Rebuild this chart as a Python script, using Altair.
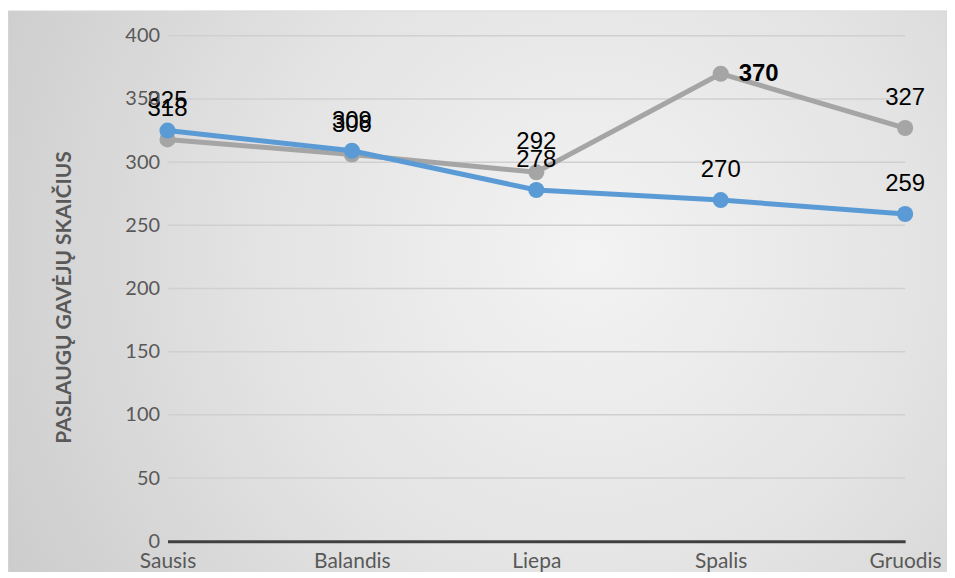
import altair as alt
import pandas as pd

months = ["Sausis", "Balandis", "Liepa", "Spalis", "Gruodis"]
series_gray = [318, 306, 292, 370, 327]
series_blue = [325, 309, 278, 270, 259]
y_ticks = [0, 50, 100, 150, 200, 250, 300, 350, 400]
y_title = "PASLAUGŲ GAVĖJŲ SKAIČIUS"

GRAY = "#a5a5a5"
BLUE = "#5b9bd5"

df = pd.DataFrame(
    [{"men": m, "serija": "Serija 1", "v": v} for m, v in zip(months, series_gray)]
    + [{"men": m, "serija": "Serija 2", "v": v} for m, v in zip(months, series_blue)]
)
grid_df = pd.DataFrame({"v": y_ticks[1:]})

y_scale = alt.Scale(domain=[0, 400], nice=False, zero=True)
y_axis = alt.Axis(
    values=y_ticks, title=y_title, titleFont="Lato", titleFontSize=21,
    titleFontWeight="bold", titleColor="#595959", titlePadding=50,
    titleY=262,
    labelFont="Lato", labelFontSize=20, labelColor="#595959",
    labelPadding=8, ticks=False, domain=False, grid=False, zindex=2,
)

x_enc = alt.X(
    "men:N",
    sort=months,
    scale=alt.Scale(type="point", padding=0),
    axis=alt.Axis(
        title=None, labelAngle=0, labelFont="Lato", labelFontSize=21,
        labelColor="#595959", labelPadding=9, ticks=False,
        domainColor="#404040", domainWidth=3, grid=False, zindex=2,
    ),
)
y_enc = alt.Y("v:Q", scale=y_scale, axis=y_axis)

bg = alt.Chart(alt.Data(values=[{}])).mark_rect(
    fill=alt.Gradient(
        gradient="radial",
        stops=[
            alt.GradientStop(color="#f3f3f3", offset=0),
            alt.GradientStop(color="#e3e3e3", offset=0.45),
            alt.GradientStop(color="#c6c6c6", offset=1),
        ],
        x1=0.62, y1=0.45, r1=0, x2=0.62, y2=0.45, r2=0.8,
    ),
    stroke="#d9d9d9", strokeWidth=1,
).encode(
    x=alt.value(-160), x2=alt.value(782), y=alt.value(-25), y2=alt.value(560)
)

grid = alt.Chart(grid_df).mark_rule(color="#d0d0d0", strokeWidth=1.5).encode(
    y=y_enc
)

base = alt.Chart(df).encode(x=x_enc, y=y_enc)

def series_layers(name, color):
    d = base.transform_filter(alt.datum.serija == name)
    line = d.mark_line(color=color, strokeWidth=5)
    pts = d.mark_circle(color=color, size=260, opacity=1)
    return [line, pts]

lbl_font = dict(font="Liberation Sans", fontSize=24, color="#000000")

lbl_normal = base.transform_filter(
    ~((alt.datum.serija == "Serija 1") & (alt.datum.men == "Spalis"))
).mark_text(baseline="middle", align="center", dy=-30, **lbl_font).encode(
    text="v:Q"
)
lbl_bold = base.transform_filter(
    (alt.datum.serija == "Serija 1") & (alt.datum.men == "Spalis")
).mark_text(baseline="middle", align="center", dx=38, dy=0, fontWeight="bold", **lbl_font).encode(
    text="v:Q"
)

chart = alt.layer(
    bg,
    grid,
    *series_layers("Serija 1", GRAY),
    *series_layers("Serija 2", BLUE),
    lbl_normal,
    lbl_bold,
).properties(
    width=740,
    height=507,
    padding={"left": 160, "top": 27, "right": 42, "bottom": 30},
    autosize=alt.AutoSizeParams(type="none"),
    background="white",
).configure_view(stroke=None)

chart.save("out.html", embed_options={"renderer": "svg", "actions": False})
